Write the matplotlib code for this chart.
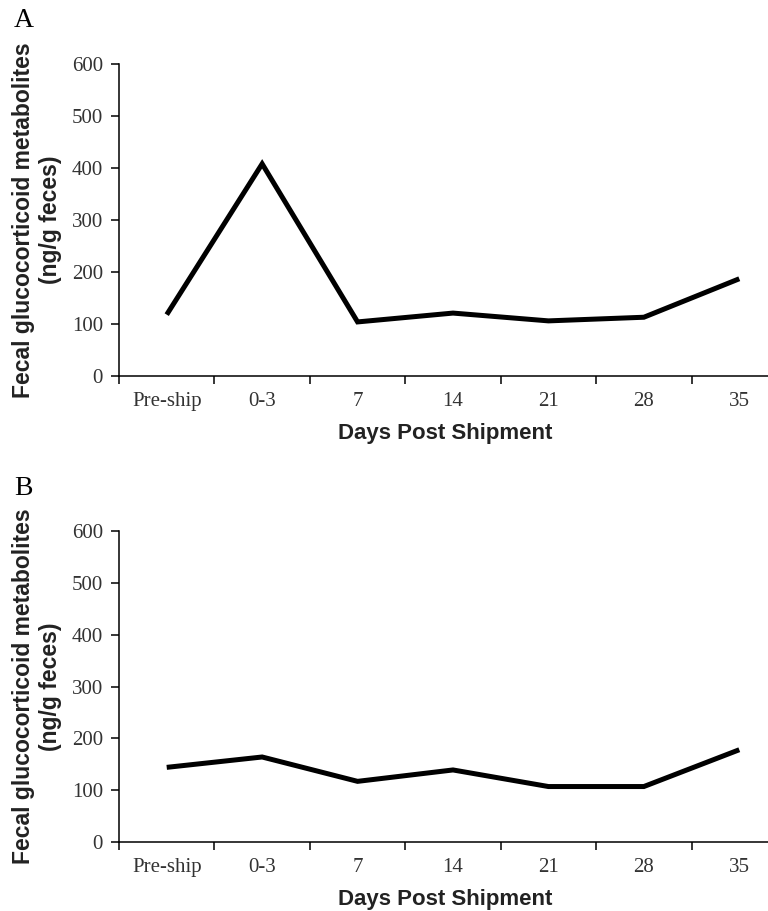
import matplotlib
matplotlib.use("Agg")
import matplotlib.pyplot as plt
import numpy as np

categories = ["Pre-ship", "0-3", "7", "14", "21", "28", "35"]
values_a = [118, 408, 104, 121, 106, 113, 187]
values_b = [144, 164, 117, 139, 107, 107, 178]
yticks = [0, 100, 200, 300, 400, 500, 600]
panel_letters = ["A", "B"]
xlabel = "Days Post Shipment"
ylabel = "Fecal glucocorticoid metabolites\n(ng/g feces)"

W, H = 768, 911
fig = plt.figure(figsize=(W / 100, H / 100), dpi=100)

serif = "Liberation Serif"
sans = "Liberation Sans"

def panel(rect, values, letter, letter_y):
    ax = fig.add_axes(rect)
    x = np.arange(len(categories))
    ax.plot(x, values, color="black", lw=3.6, solid_joinstyle="miter", solid_capstyle="butt")
    ax.set_xlim(-0.5, len(categories) - 0.5)
    ax.set_ylim(0, 600)
    for s in ["top", "right"]:
        ax.spines[s].set_visible(False)
    for s in ["left", "bottom"]:
        ax.spines[s].set_linewidth(1.1)
    ax.set_yticks(yticks)
    ax.set_yticklabels([str(v) for v in yticks], fontfamily=serif, fontsize=15, color="#333333")
    ax.tick_params(axis="y", direction="out", length=5.5, width=1.1, pad=6)
    ax.set_xticks(np.arange(-0.5, len(categories) - 0.4, 1.0))
    ax.set_xticklabels([])
    ax.tick_params(axis="x", which="major", direction="out", length=5.5, width=1.1)
    ax.set_xticks(x, minor=True)
    ax.set_xticklabels(categories, minor=True, fontfamily=serif, fontsize=15, color="#333333")
    ax.tick_params(axis="x", which="minor", length=0, pad=11.5)
    ax.set_xlabel(xlabel, fontfamily=sans, fontweight="bold", fontsize=16, color="#222222")
    ax.set_ylabel(ylabel, fontfamily=sans, fontweight="bold", fontsize=16.5, color="#222222")
    ax.xaxis.set_label_coords((445 - 119) / 668, -(423 - 376) / 312)
    ax.yaxis.set_label_coords((62 - 119) / 668, 0.5)
    fig.text(14 / W, letter_y, letter, fontfamily=serif, fontsize=20, ha="left", va="top")
    return ax

axA = panel([119 / W, 1 - 376 / H, 668 / W, 312 / H], values_a, "A", 1 - 8 / H)
axB = panel([119 / W, 1 - 842 / H, 668 / W, 311 / H], values_b, "B", 1 - 476 / H)

fig.savefig("out.png", dpi=100)
